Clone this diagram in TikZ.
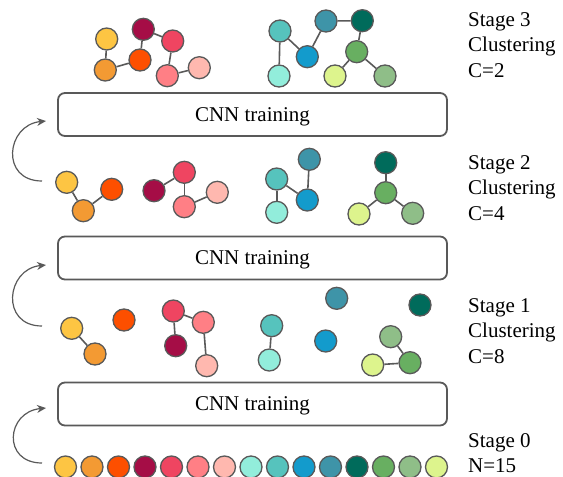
\documentclass[tikz,border=0pt]{standalone}
\usepackage{fontspec}
\setmainfont{Liberation Serif}
\usepackage{tikz}
\usetikzlibrary{arrows.meta}
\definecolor{LineGray}{HTML}{595959}
\definecolor{cYel}{HTML}{FDC543}
\definecolor{cOra}{HTML}{F39A33}
\definecolor{cRed}{HTML}{FD4F00}
\definecolor{cCri}{HTML}{A50D46}
\definecolor{cRos}{HTML}{EF4561}
\definecolor{cSal}{HTML}{FF7F85}
\definecolor{cPin}{HTML}{FFB8AF}
\definecolor{cMin}{HTML}{92EDDB}
\definecolor{cTea}{HTML}{56C3BD}
\definecolor{cBlu}{HTML}{139BCC}
\definecolor{cSte}{HTML}{3E94A8}
\definecolor{cDkg}{HTML}{006B5B}
\definecolor{cGrn}{HTML}{68AF61}
\definecolor{cSag}{HTML}{8FBE88}
\definecolor{cLim}{HTML}{DDF48D}
\newcommand{\boxw}{389}
\newcommand{\boxh}{43}
\tikzset{
    ball/.style={circle,draw=LineGray,line width=1.3pt,minimum size=22pt,inner sep=0pt,fill=#1},
    link/.style={draw=LineGray,line width=1.6pt},
    cnnbox/.style={draw=LineGray,line width=1.8pt,rounded corners=7pt,minimum width=\boxw pt,minimum height=\boxh pt,inner sep=0pt,text depth=0pt},
    loopback/.style={draw=LineGray,line width=1.2pt,-{Stealth[length=9pt,width=8pt]}},
    stagetxt/.style={anchor=north west,align=left,inner sep=0pt}
}

\begin{document}
\begin{tikzpicture}[x=1pt,y=-1pt,font=\fontsize{21}{25.5}\selectfont]
    \useasboundingbox (0,0) rectangle (563,477);    % Freeze the bounding box
    %
    % --- --- --- Stage 0: single samples
    \foreach \c [count=\i] in {Yel,Ora,Red,Cri,Ros,Sal,Pin,Min,Tea,Blu,Ste,Dkg,Grn,Sag,Lim}
        \node[ball=c\c] (s0\c) at ({65.5+(\i-1)*26.5},467) {};
    \node[cnnbox] (cnn1) at (252.5,404) {CNN training};
    %
    % --- --- --- Stage 1: C=8
    \node[ball=cYel] (s1Yel) at (71.7,328.3) {};
    \node[ball=cOra] (s1Ora) at (95,354) {};
    \node[ball=cRed] (s1Red) at (124,320) {};
    \node[ball=cRos] (s1Ros) at (173.3,311) {};
    \node[ball=cCri] (s1Cri) at (175.7,345.7) {};
    \node[ball=cSal] (s1Sal) at (203.3,322.3) {};
    \node[ball=cPin] (s1Pin) at (206.7,365.7) {};
    \node[ball=cTea] (s1Tea) at (271.7,325.7) {};
    \node[ball=cMin] (s1Min) at (269.3,360) {};
    \node[ball=cSte] (s1Ste) at (336.7,298.3) {};
    \node[ball=cBlu] (s1Blu) at (325.7,341) {};
    \node[ball=cDkg] (s1Dkg) at (420,305) {};
    \node[ball=cSag] (s1Sag) at (390.7,336.7) {};
    \node[ball=cGrn] (s1Grn) at (410,362.7) {};
    \node[ball=cLim] (s1Lim) at (372.7,365) {};
    \draw[link] (s1Yel) -- (s1Ora);
    \draw[link] (s1Ros) -- (s1Cri);
    \draw[link] (s1Ros) -- (s1Sal);
    \draw[link] (s1Sal) -- (s1Pin);
    \draw[link] (s1Tea) -- (s1Min);
    \draw[link] (s1Sag) -- (s1Grn);
    \draw[link] (s1Lim) -- (s1Grn);
    \node[cnnbox] (cnn2) at (252.5,258) {CNN training};
    %
    % --- --- --- Stage 2: C=4
    \node[ball=cYel] (s2Yel) at (66.7,182.3) {};
    \node[ball=cOra] (s2Ora) at (83.3,210.7) {};
    \node[ball=cRed] (s2Red) at (111.7,189.3) {};
    \node[ball=cCri] (s2Cri) at (154,190.7) {};
    \node[ball=cRos] (s2Ros) at (184.3,172.3) {};
    \node[ball=cSal] (s2Sal) at (184.3,206.7) {};
    \node[ball=cPin] (s2Pin) at (217.3,192.3) {};
    \node[ball=cTea] (s2Tea) at (276.7,179) {};
    \node[ball=cMin] (s2Min) at (276.7,212.3) {};
    \node[ball=cSte] (s2Ste) at (309.3,159.3) {};
    \node[ball=cBlu] (s2Blu) at (307.3,200) {};
    \node[ball=cDkg] (s2Dkg) at (385.7,162.7) {};
    \node[ball=cGrn] (s2Grn) at (385.7,192.7) {};
    \node[ball=cLim] (s2Lim) at (359,214) {};
    \node[ball=cSag] (s2Sag) at (412.7,213.3) {};
    \draw[link] (s2Yel) -- (s2Ora);
    \draw[link] (s2Ora) -- (s2Red);
    \draw[link] (s2Cri) -- (s2Ros);
    \draw[link] (s2Ros) -- (s2Sal);
    \draw[link] (s2Sal) -- (s2Pin);
    \draw[link] (s2Tea) -- (s2Min);
    \draw[link] (s2Tea) -- (s2Blu);
    \draw[link] (s2Blu) -- (s2Ste);
    \draw[link] (s2Dkg) -- (s2Grn);
    \draw[link] (s2Grn) -- (s2Lim);
    \draw[link] (s2Grn) -- (s2Sag);
    \node[cnnbox] (cnn3) at (252.5,114.5) {CNN training};
    %
    % --- --- --- Stage 3: C=2
    \node[ball=cYel] (s3Yel) at (106.7,39) {};
    \node[ball=cOra] (s3Ora) at (105.3,70) {};
    \node[ball=cRed] (s3Red) at (140,60) {};
    \node[ball=cCri] (s3Cri) at (143.3,29.3) {};
    \node[ball=cRos] (s3Ros) at (172.7,41) {};
    \node[ball=cSal] (s3Sal) at (167.3,75.7) {};
    \node[ball=cPin] (s3Pin) at (199.3,67.7) {};
    \node[ball=cTea] (s3Tea) at (280,31) {};
    \node[ball=cMin] (s3Min) at (279,76) {};
    \node[ball=cBlu] (s3Blu) at (307.3,56.7) {};
    \node[ball=cSte] (s3Ste) at (326,21) {};
    \node[ball=cDkg] (s3Dkg) at (362.3,20.7) {};
    \node[ball=cGrn] (s3Grn) at (356.7,51.7) {};
    \node[ball=cLim] (s3Lim) at (335,76) {};
    \node[ball=cSag] (s3Sag) at (385,76) {};
    \draw[link] (s3Yel) -- (s3Ora);
    \draw[link] (s3Ora) -- (s3Red);
    \draw[link] (s3Red) -- (s3Cri);
    \draw[link] (s3Cri) -- (s3Ros);
    \draw[link] (s3Ros) -- (s3Sal);
    \draw[link] (s3Sal) -- (s3Pin);
    \draw[link] (s3Tea) -- (s3Min);
    \draw[link] (s3Tea) -- (s3Blu);
    \draw[link] (s3Blu) -- (s3Ste);
    \draw[link] (s3Ste) -- (s3Dkg);
    \draw[link] (s3Dkg) -- (s3Grn);
    \draw[link] (s3Grn) -- (s3Lim);
    \draw[link] (s3Grn) -- (s3Sag);
    %
    % === === === Loop-back arrows
    \coordinate (up1a) at (42,463);  \coordinate (up1b) at (46,408);
    \coordinate (up2a) at (42,326);  \coordinate (up2b) at (46,265);
    \coordinate (up3a) at (42,181);  \coordinate (up3b) at (46,121);
    \draw[loopback] (up1a) .. controls (2,463) and (6,412) .. (up1b);
    \draw[loopback] (up2a) .. controls (0,326) and (6,269) .. (up2b);
    \draw[loopback] (up3a) .. controls (0,181) and (6,125) .. (up3b);
    %
    % === === === Stage labels
    \node[stagetxt] (lab0) at (468,433) {Stage 0\\N=15};
    \node[stagetxt] (lab1) at (468,298) {Stage 1\\Clustering\\C=8};
    \node[stagetxt] (lab2) at (468,155) {Stage 2\\Clustering\\C=4};
    \node[stagetxt] (lab3) at (468,12) {Stage 3\\Clustering\\C=2};
\end{tikzpicture}
\end{document}
